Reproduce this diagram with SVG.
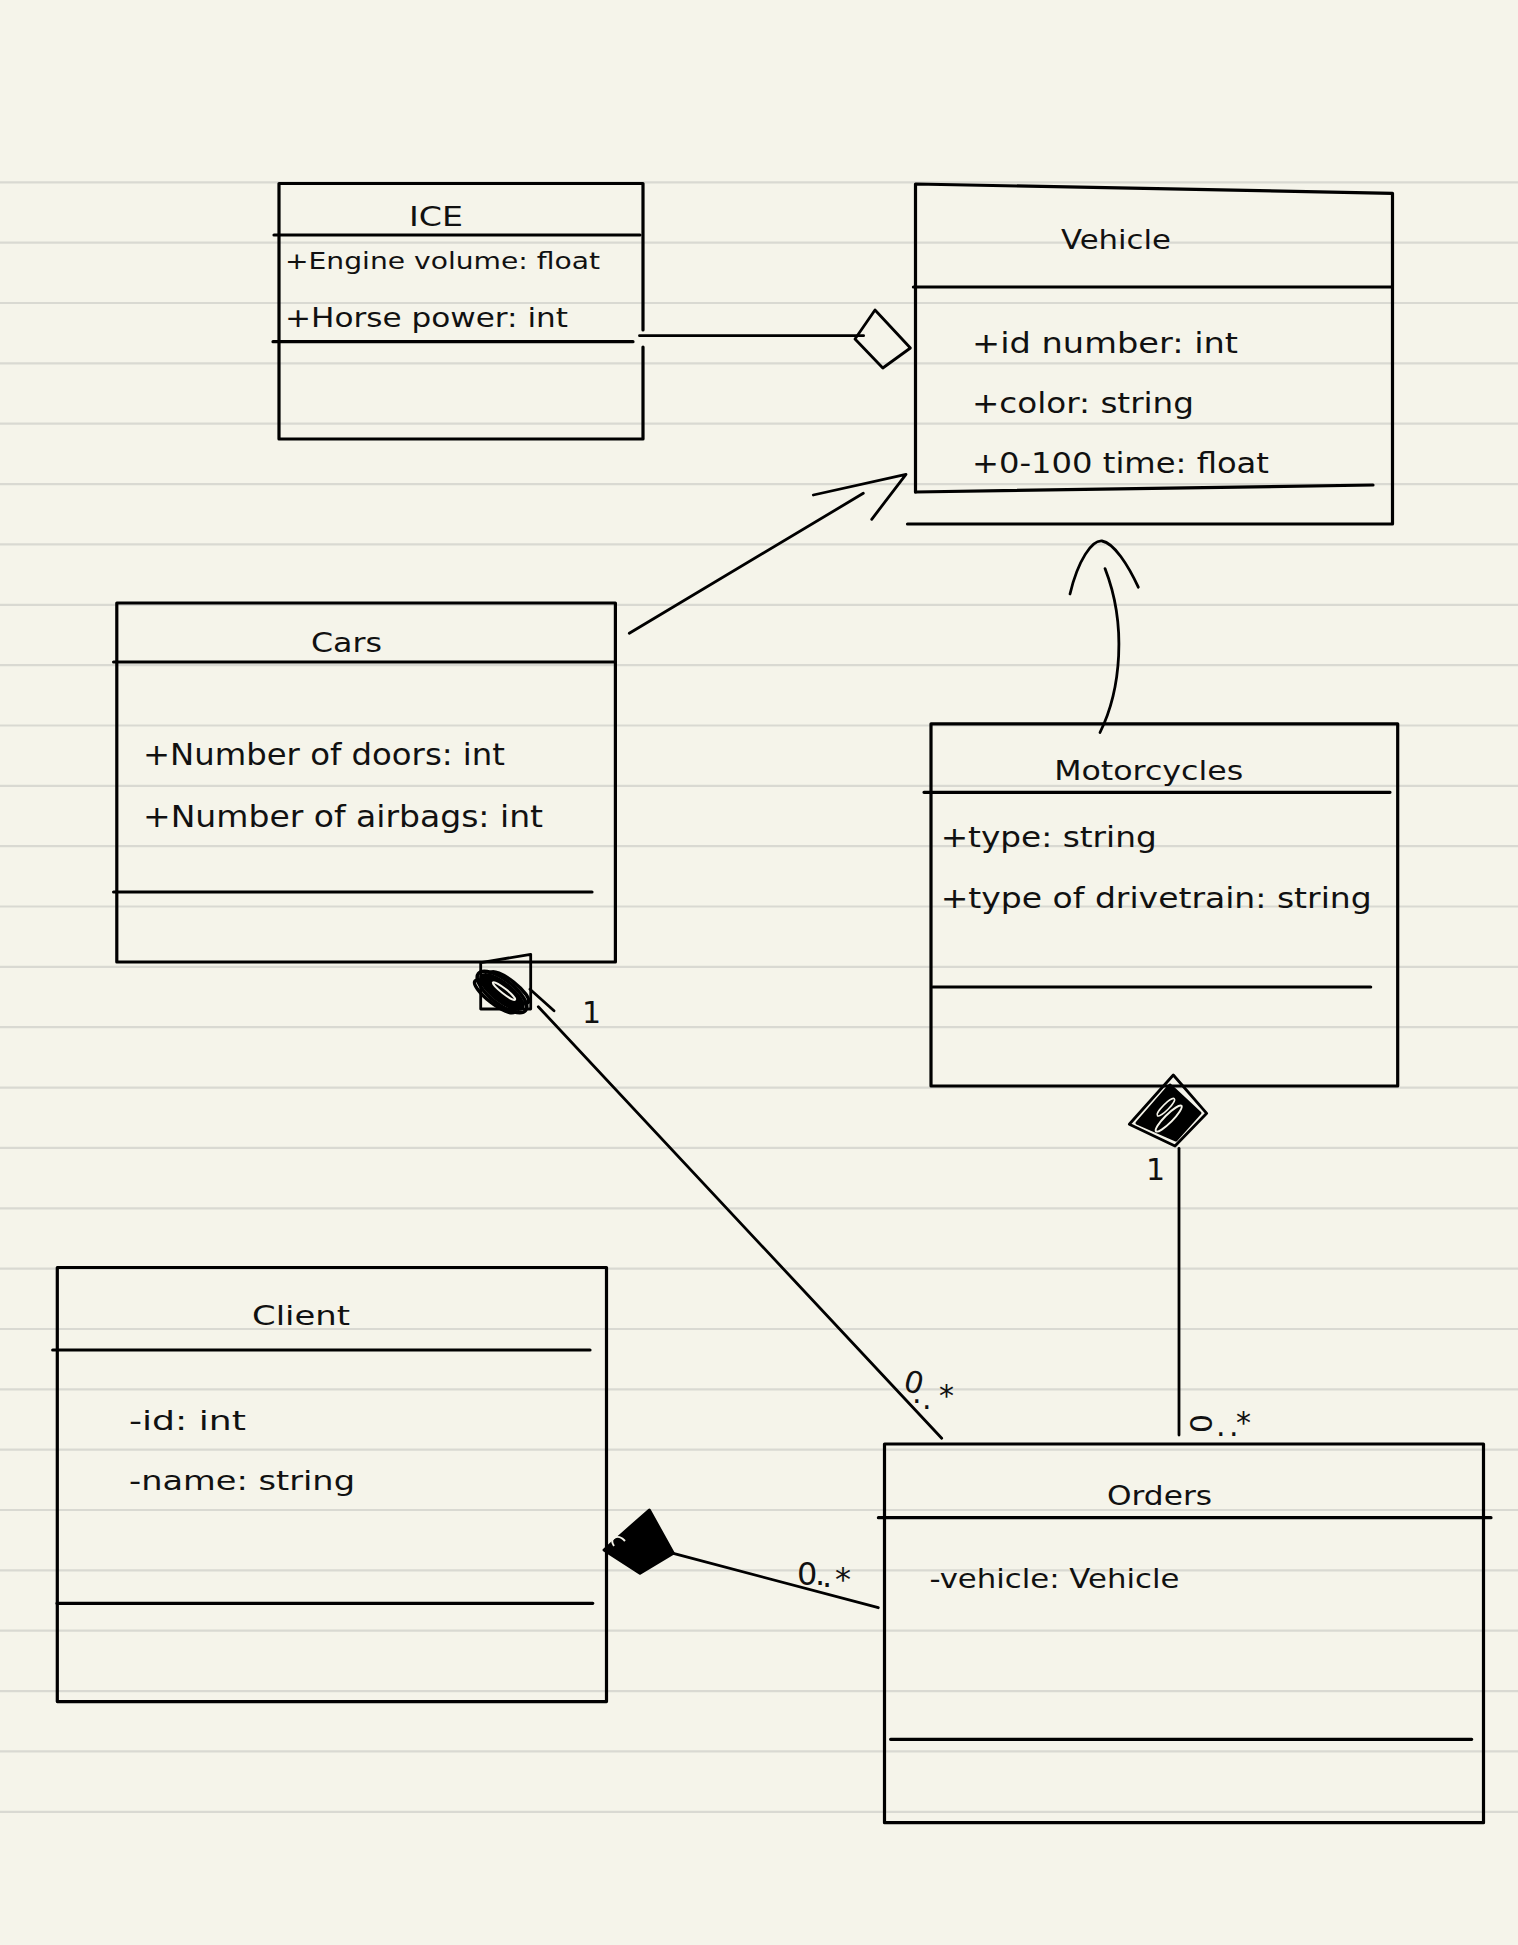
<svg xmlns="http://www.w3.org/2000/svg" width="1518" height="1945" viewBox="0 0 1518 1945">
<style>
.rule{stroke:#d9d9d2;stroke-width:2.2;fill:none}
.box{fill:none;stroke:#000;stroke-width:3.2;stroke-linecap:round;stroke-linejoin:round}
.ln{fill:none;stroke:#000;stroke-width:2.8;stroke-linecap:round;stroke-linejoin:round}
.scr{fill:none;stroke:#000;stroke-width:3.5}
.blk{fill:#000;stroke:#000;stroke-width:3;stroke-linejoin:round}
.t{font-family:"DejaVu Sans","Liberation Sans",sans-serif;fill:#111}
.ttl{font-size:26px;text-anchor:middle}
.att{font-size:28px}
.lbl{font-size:30px}
</style>
<rect width="1518" height="1945" fill="#f5f4ea"/>
<path class="rule" d="M0,182.3H1518M0,242.7H1518M0,303H1518M0,363.4H1518M0,423.7H1518M0,484.1H1518M0,544.4H1518M0,604.8H1518M0,665.1H1518M0,725.5H1518M0,785.8H1518M0,846.2H1518M0,906.5H1518M0,966.9H1518M0,1027.2H1518M0,1087.6H1518M0,1147.9H1518M0,1208.3H1518M0,1268.6H1518M0,1329H1518M0,1389.3H1518M0,1449.7H1518M0,1510H1518M0,1570.4H1518M0,1630.7H1518M0,1691.1H1518M0,1751.4H1518M0,1811.8H1518"/>

<g id="ICE">
<path class="box" d="M643,330V183.5H279V439H643V347"/>
<path class="box" d="M274,235H640M273,341.7H633"/>
<text class="t ttl" x="436" y="226" textLength="54" lengthAdjust="spacingAndGlyphs">ICE</text>
<text class="t" x="285" y="269" font-size="23" textLength="315" lengthAdjust="spacingAndGlyphs">+Engine volume: float</text>
<text class="t" x="285" y="327" font-size="27" textLength="283" lengthAdjust="spacingAndGlyphs">+Horse power: int</text>
</g>

<g id="Vehicle">
<path class="box" d="M915.5,492V184L1392.5,193.3V524H907.5"/>
<path class="box" d="M913.4,287H1392M915.5,492L1373,485"/>
<text class="t ttl" x="1116" y="249" textLength="110" lengthAdjust="spacingAndGlyphs">Vehicle</text>
<text class="t att" x="972" y="353" textLength="266" lengthAdjust="spacingAndGlyphs">+id number: int</text>
<text class="t att" x="972" y="413" textLength="222" lengthAdjust="spacingAndGlyphs">+color: string</text>
<text class="t att" x="972" y="473" textLength="297" lengthAdjust="spacingAndGlyphs">+0-100 time: float</text>
</g>

<g id="Cars">
<rect class="box" x="116.8" y="603" width="498.6" height="359"/>
<path class="box" d="M113.6,662H615M113.6,892H592"/>
<text class="t ttl" x="346.5" y="652" textLength="71" lengthAdjust="spacingAndGlyphs">Cars</text>
<text class="t" x="143" y="765" font-size="30" textLength="362" lengthAdjust="spacingAndGlyphs">+Number of doors: int</text>
<text class="t" x="143" y="827" font-size="30" textLength="400" lengthAdjust="spacingAndGlyphs">+Number of airbags: int</text>
</g>

<g id="Motorcycles">
<rect class="box" x="931" y="723.8" width="466.7" height="362.2"/>
<path class="box" d="M924,792.3H1390M932.7,987H1370.7"/>
<text class="t ttl" x="1148.7" y="780" textLength="189" lengthAdjust="spacingAndGlyphs">Motorcycles</text>
<text class="t att" x="940.7" y="847" textLength="216" lengthAdjust="spacingAndGlyphs">+type: string</text>
<text class="t att" x="940.7" y="908" textLength="431" lengthAdjust="spacingAndGlyphs">+type of drivetrain: string</text>
</g>

<g id="Client">
<rect class="box" x="57.3" y="1267.5" width="549.2" height="434.1"/>
<path class="box" d="M52.7,1350H590M57,1603.3H592.8"/>
<text class="t ttl" x="301" y="1325" textLength="98" lengthAdjust="spacingAndGlyphs">Client</text>
<text class="t" x="129" y="1430" font-size="27" textLength="117" lengthAdjust="spacingAndGlyphs">-id: int</text>
<text class="t" x="129" y="1490" font-size="27" textLength="226" lengthAdjust="spacingAndGlyphs">-name: string</text>
</g>

<g id="Orders">
<rect class="box" x="884.5" y="1444" width="599" height="378.7"/>
<path class="box" d="M878.4,1517.7H1491M890.6,1739.3H1471.7"/>
<text class="t ttl" x="1159.5" y="1505" textLength="105" lengthAdjust="spacingAndGlyphs">Orders</text>
<text class="t" x="929.4" y="1588" font-size="27" textLength="250" lengthAdjust="spacingAndGlyphs">-vehicle: Vehicle</text>
</g>

<g id="connectors">
<!-- ICE aggregation to Vehicle -->
<path class="ln" d="M639.5,335.7H863.6"/>
<polygon class="ln" points="855,339 875,310 910.4,348 882.8,368"/>
<!-- Cars inherits Vehicle -->
<path class="ln" d="M629.3,633.3L863.3,493.3"/>
<path class="ln" d="M813.3,495L906,474.3L871.7,519.3"/>
<!-- Motorcycles inherits Vehicle -->
<path class="ln" d="M1100,732.5C1121,690 1127,625 1105,568.6"/>
<path class="ln" d="M1070,594C1078,560 1092,540 1102,541C1114,543 1128,565 1138.3,587.2"/>
<!-- Cars composition to Orders -->
<polygon class="ln" points="480.7,962.7 530.7,954.3 530.7,1009 480.7,1009"/>
<g transform="rotate(38 502 992)">
<ellipse class="blk" cx="502" cy="992" rx="26" ry="9"/>
<ellipse class="scr" cx="502" cy="992" rx="30" ry="12"/>
<ellipse class="scr" cx="505" cy="984" rx="24" ry="7"/>
<ellipse class="scr" cx="499" cy="1000" rx="25" ry="7"/>
<ellipse cx="503" cy="990" rx="14" ry="2.5" fill="none" stroke="#f5f4ea" stroke-width="2"/>
</g>
<path class="ln" d="M530,989.3L554,1010.7M538.3,1006.7L941.7,1438.3"/>
<text class="t lbl" x="582" y="1023" font-size="28">1</text>
<text class="t lbl" x="902 912 922 939" y="1390 1403 1409 1406" rotate="15 0 0 0">0..*</text>
<!-- Motorcycles composition to Orders -->
<polygon class="ln" points="1173.3,1075 1206.7,1113.3 1175,1146 1129.3,1124.3"/>
<polygon class="blk" points="1170,1085 1200,1113 1176,1140 1137,1123"/>
<g transform="rotate(-45 1168 1115)">
<ellipse cx="1166" cy="1118" rx="18" ry="4" fill="none" stroke="#f5f4ea" stroke-width="2"/>
<ellipse cx="1172" cy="1108" rx="12" ry="3" fill="none" stroke="#f5f4ea" stroke-width="1.5"/>
</g>
<path class="ln" d="M1179,1148.3V1435"/>
<text class="t lbl" x="1146" y="1180">1</text>
<text class="t lbl" x="1190 1216 1229 1236" y="1414 1436 1436 1433" rotate="90 0 0 0" font-size="28">0..*</text>
<!-- Client composition to Orders -->
<polygon class="blk" points="604,1550 649.3,1510 673.3,1553.3 640,1573.3" stroke-width="3.5"/>
<path d="M614,1546c-6,-8 4,-13 11,-5" fill="none" stroke="#f5f4ea" stroke-width="2"/>
<path class="ln" d="M673.3,1553.3L878.3,1607.7"/>
<text class="t" x="797 815 822 835" y="1585 1585 1587 1590" font-size="32">0..*</text>
</g>
</svg>
